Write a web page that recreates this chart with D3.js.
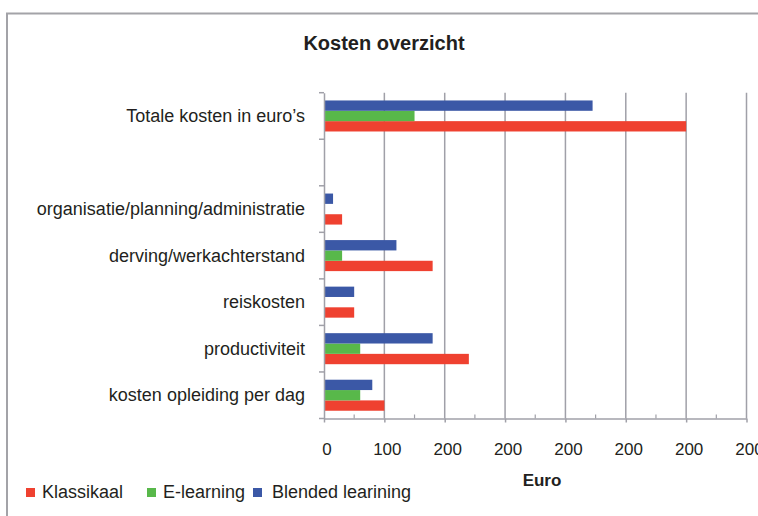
<!DOCTYPE html>
<html>
<head>
<meta charset="utf-8">
<script src="https://cdn.jsdelivr.net/npm/d3@7"></script>
<style>
  body { margin: 0; background: #fff; }
  text { font-family: "Liberation Sans", Arial, sans-serif; fill: #231f20; }
</style>
</head>
<body>
<div id="chart"></div>
<script>
// data
var categories = ["Totale kosten in euro\u2019s", "", "organisatie/planning/administratie",
  "derving/werkachterstand", "reiskosten", "productiviteit", "kosten opleiding per dag"];
var seriesNames = ["Klassikaal", "E-learning", "Blended learining"];
var klassikaal = [600, 0, 30, 180, 50, 240, 100];
var eLearning = [150, 0, 0, 30, 0, 60, 60];
var blended = [445, 0, 15, 120, 50, 180, 80];
var xTickValues = [0, 100, 200, 300, 400, 500, 600, 700];
var xTickLabels = ["0", "100", "200", "200", "200", "200", "200", "200"];
var colors = ["#ef4130", "#58b84a", "#3b58a6"];

var W = 758, H = 516;
var margin = { top: 92.7, left: 324, right: 11.5, bottom: 97.5 };

var svg = d3.select("#chart").append("svg")
    .attr("width", W)
    .attr("height", H);

// frame
svg.append("rect")
    .attr("x", 7).attr("y", 13.5)
    .attr("width", 800).attr("height", 600)
    .attr("fill", "none")
    .attr("stroke", "#a3a3a8")
    .attr("stroke-width", 2);

// title
svg.append("text")
    .attr("x", 384).attr("y", 49.5)
    .attr("text-anchor", "middle")
    .style("font-size", "20px")
    .style("font-weight", "bold")
    .text("Kosten overzicht");

var x = d3.scaleLinear()
    .domain([0, 700])
    .range([margin.left, W - margin.right]);

var y = d3.scaleBand()
    .domain(categories)
    .range([margin.top, H - margin.bottom])
    .padding(0);

// bars inside a category, top to bottom: blended, e-learning, klassikaal
var ySub = d3.scaleBand()
    .domain([2, 1, 0])
    .range([0, y.bandwidth()])
    .paddingInner(0)
    .paddingOuter(0.75);

var rows = categories.map(function (c, i) {
  return { cat: c, values: [klassikaal[i], eLearning[i], blended[i]] };
});

var gridColor = "#a0a0a8";

// gridlines
svg.append("g")
  .selectAll("line")
  .data(xTickValues.slice(1))
  .join("line")
    .attr("x1", function (d) { return x(d); })
    .attr("x2", function (d) { return x(d); })
    .attr("y1", margin.top)
    .attr("y2", H - margin.bottom)
    .attr("stroke", gridColor)
    .attr("stroke-width", 1.5);

// bars
svg.append("g")
  .selectAll("g")
  .data(rows)
  .join("g")
    .attr("transform", function (d) { return "translate(0," + y(d.cat) + ")"; })
  .selectAll("rect")
  .data(function (d) { return d.values.map(function (v, k) { return { k: k, v: v }; }); })
  .join("rect")
    .attr("x", x(0))
    .attr("y", function (d) { return ySub(d.k); })
    .attr("width", function (d) { return x(d.v) - x(0); })
    .attr("height", ySub.bandwidth())
    .attr("fill", function (d) { return colors[d.k]; });

// y axis
var yAxis = svg.append("g")
    .attr("transform", "translate(" + x(0) + ",0)")
    .call(d3.axisLeft(y).tickSize(0).tickPadding(19));
yAxis.select(".domain").attr("stroke", gridColor).attr("stroke-width", 1.5);
yAxis.selectAll("text")
    .style("font-size", "18px")
    .attr("fill", "#231f20")
    .attr("dy", "0.33em");

// y ticks at band boundaries
var bounds = categories.map(function (c) { return y(c); }).concat([y.range()[1]]);
svg.append("g")
  .selectAll("line")
  .data(bounds)
  .join("line")
    .attr("x1", x(0) - 5).attr("x2", x(0))
    .attr("y1", function (d) { return d; })
    .attr("y2", function (d) { return d; })
    .attr("stroke", gridColor)
    .attr("stroke-width", 1.5);

// x axis
var xAxis = svg.append("g")
    .attr("transform", "translate(0," + (H - margin.bottom) + ")")
    .call(d3.axisBottom(x)
      .tickValues(xTickValues)
      .tickSizeInner(4)
      .tickSizeOuter(0)
      .tickPadding(20)
      .tickFormat(function (d, i) { return xTickLabels[i]; }));
xAxis.select(".domain").attr("stroke", gridColor).attr("stroke-width", 1.5);
xAxis.selectAll(".tick line").attr("stroke", gridColor).attr("stroke-width", 1.5);
xAxis.selectAll(".tick text")
    .style("font-size", "17px")
    .attr("fill", "#231f20")
    .attr("dx", 2.5);

// minor ticks pointing up
svg.append("g")
  .selectAll("line")
  .data(xTickValues.slice(0, -1).map(function (d) { return d + 50; }))
  .join("line")
    .attr("x1", function (d) { return x(d); })
    .attr("x2", function (d) { return x(d); })
    .attr("y1", H - margin.bottom - 4)
    .attr("y2", H - margin.bottom)
    .attr("stroke", gridColor)
    .attr("stroke-width", 1.2);

// x axis title
svg.append("text")
    .attr("x", 542).attr("y", 486)
    .attr("text-anchor", "middle")
    .style("font-size", "17px")
    .style("font-weight", "bold")
    .text("Euro");

// legend
var legendX = [26, 147, 253];
var legend = svg.append("g")
  .selectAll("g")
  .data(seriesNames)
  .join("g")
    .attr("transform", function (d, i) { return "translate(" + legendX[i] + ",488)"; });
legend.append("rect")
    .attr("width", 9).attr("height", 9)
    .attr("fill", function (d, i) { return colors[i]; });
legend.append("text")
    .attr("x", function (d, i) { return i === 2 ? 19 : 16; })
    .attr("y", 9.5)
    .style("font-size", "18px")
    .text(function (d) { return d; });
</script>
</body>
</html>
